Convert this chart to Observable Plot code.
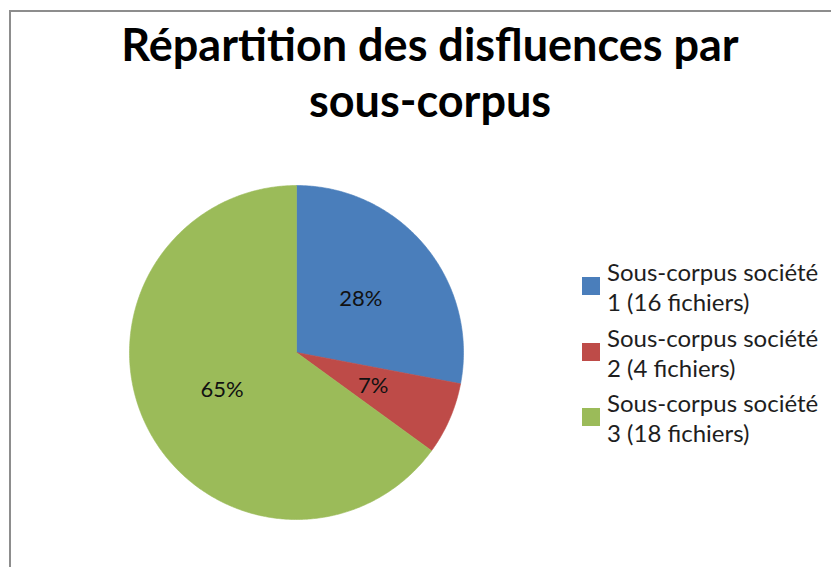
<!DOCTYPE html>
<html><head><meta charset="utf-8">
<script src="https://cdn.jsdelivr.net/npm/d3@7"></script>
<script src="https://cdn.jsdelivr.net/npm/@observablehq/plot@0.6"></script>
<style>
html,body{margin:0;padding:0;background:#fff;}
#frame{position:absolute;left:0;top:0;width:831px;height:567px;overflow:hidden;font-family:Lato,"Open Sans",sans-serif;}
#border{position:absolute;left:9px;top:10px;width:830px;height:600px;border-left:2px solid #8d8d8d;border-top:2px solid #8d8d8d;}
#title{position:absolute;left:0;width:860px;top:16px;text-align:center;font-weight:bold;font-size:45px;line-height:56px;color:#000;}
#chart{position:absolute;left:126px;top:182px;}
#legend{position:absolute;left:582px;top:257px;font-size:24px;line-height:30px;color:#1e1e1e;}
.item{position:relative;padding-left:25px;height:65.5px;white-space:nowrap;}
.sw{position:absolute;left:0;top:20px;width:18px;height:18px;}
</style></head><body>
<div id="frame">
<div id="border"></div>
<div id="title">Répartition des disfluences par<br>sous-corpus</div>
<div id="chart"></div>
<div id="legend"></div>
</div>
<script>
const categories = ["Sous-corpus société 1 (16 fichiers)", "Sous-corpus société 2 (4 fichiers)", "Sous-corpus société 3 (18 fichiers)"];
const legendLine1 = ["Sous-corpus société", "Sous-corpus société", "Sous-corpus société"];
const legendLine2 = ["1 (16 fichiers)", "2 (4 fichiers)", "3 (18 fichiers)"];
const values = [28, 7, 65];
const colors = ["#4a7ebb", "#be4b48", "#9bbb59"];

const arcs = d3.pie().sort(null).value(d => d)(values);
const pts = [];
arcs.forEach((a, i) => {
  pts.push({k: i, x: 0, y: 0});
  const n = Math.max(2, Math.ceil((a.endAngle - a.startAngle) / 0.01));
  for (let j = 0; j <= n; j++) {
    const t = a.startAngle + (a.endAngle - a.startAngle) * j / n;
    pts.push({k: i, x: Math.sin(t), y: Math.cos(t)});
  }
  pts.push({k: i, x: 0, y: 0});
});
const labels = arcs.map((a, i) => {
  const m = (a.startAngle + a.endAngle) / 2;
  return {k: i, x: 0.5 * Math.sin(m), y: 0.5 * Math.cos(m), text: values[i] + "%"};
});

const plot = Plot.plot({
  width: 340, height: 340, margin: 3,
  x: {domain: [-1, 1], axis: null},
  y: {domain: [-1, 1], axis: null},
  color: {domain: [0, 1, 2], range: colors},
  marks: [
    Plot.line(pts, {x: "x", y: "y", z: "k", fill: "k", stroke: "k", strokeWidth: 0.6, curve: "linear"}),
    Plot.text(labels, {x: "x", y: "y", text: "text", fontSize: 22, fill: "#111", fontFamily: "Lato, 'Open Sans', sans-serif"})
  ]
});
document.getElementById("chart").appendChild(plot);

const leg = document.getElementById("legend");
categories.forEach((c, i) => {
  const d = document.createElement("div");
  d.className = "item";
  d.innerHTML = `<div class="sw" style="background:${colors[i]}"></div>${legendLine1[i]}<br>${legendLine2[i]}`;
  leg.appendChild(d);
});
</script>
</body></html>
